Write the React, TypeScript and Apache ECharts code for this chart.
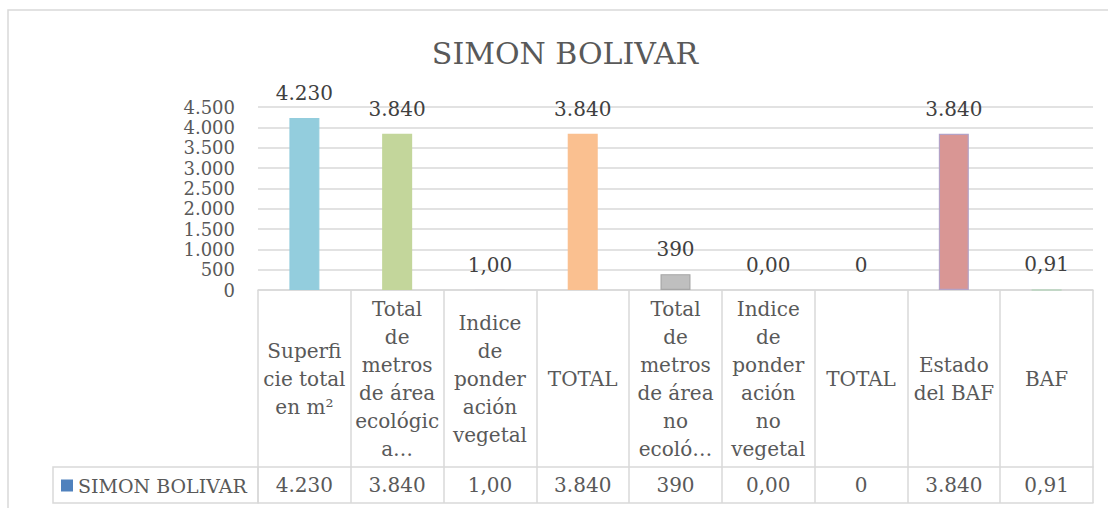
import React, { useEffect, useRef } from "react";
import * as echarts from "echarts";

const chartTitle = "SIMON BOLIVAR";
const seriesName = "SIMON BOLIVAR";
const categories = [
  "Superfi\ncie total\nen m²",
  "Total\nde\nmetros\nde área\necológic\na…",
  "Indice\nde\nponder\nación\nvegetal",
  "TOTAL",
  "Total\nde\nmetros\nde área\nno\necoló…",
  "Indice\nde\nponder\nación\nno\nvegetal",
  "TOTAL",
  "Estado\ndel BAF",
  "BAF",
];
const values = [4230, 3840, 1.0, 3840, 390, 0.0, 0, 3840, 0.91];
const valueLabels = ["4.230", "3.840", "1,00", "3.840", "390", "0,00", "0", "3.840", "0,91"];
const yTicks = [0, 500, 1000, 1500, 2000, 2500, 3000, 3500, 4000, 4500];
const barColors = ["#93CDDD", "#C3D69B", "#B3A2C7", "#FAC090", "#BFBFBF", "#95B3D7", "#D99694", "#D99694", "#C3D69B"];
const barBorders = ["#93CDDD", "#C3D69B", "", "#FAC090", "#A6A6A6", "", "", "#B3A2C7", "#A9D4B1"];

const FONT = "DejaVu Serif";
const GRID = "#D9D9D9";
const TXT = "#595959";

function fmtThousands(v: number): string {
  if (v >= 1000) {
    const k = Math.floor(v / 1000);
    const r = String(v % 1000).padStart(3, "0");
    return `${k}.${r}`;
  }
  return String(v);
}

export default function App() {
  const ref = useRef<HTMLDivElement>(null);
  useEffect(() => {
    if (!ref.current) return;
    const chart = echarts.init(ref.current, null, { renderer: "svg" });
    const option: any = {
      animation: false,
      backgroundColor: "#ffffff",
      textStyle: { fontFamily: FONT },
      graphic: [
        {
          type: "rect",
          shape: { x: 8, y: 10, width: 1200, height: 600 },
          style: { fill: "none", stroke: GRID, lineWidth: 1.5 },
          silent: true,
        },
        {
          type: "rect",
          shape: { x: 53, y: 467, width: 205, height: 36 },
          style: { fill: "none", stroke: GRID, lineWidth: 1.5 },
          silent: true,
        },
        {
          type: "text",
          x: 565,
          y: 53,
          style: {
            text: chartTitle,
            fill: TXT,
            font: `30px '${FONT}'`,
            textAlign: "center",
            textVerticalAlign: "middle",
          },
        },
      ],
      legend: {
        show: true,
        left: 61,
        top: 476,
        padding: 0,
        itemWidth: 12,
        itemHeight: 12,
        icon: "rect",
        textStyle: { fontFamily: FONT, fontSize: 19, color: TXT },
        data: [seriesName],
      },
      grid: { left: 258, right: 15, top: 107, bottom: 218, containLabel: false },
      xAxis: [
        {
          type: "category",
          data: categories,
          position: "bottom",
          axisLine: { show: true, lineStyle: { color: GRID, width: 1.5 } },
          axisTick: { show: true, length: 213, lineStyle: { color: GRID, width: 1.5 } },
          axisLabel: {
            interval: 0,
            margin: 89,
            verticalAlign: "middle",
            align: "center",
            fontFamily: FONT,
            fontSize: 20,
            lineHeight: 28,
            color: TXT,
          },
          splitLine: { show: false },
        },
        {
          type: "category",
          data: categories,
          position: "bottom",
          offset: 177,
          axisLine: { show: true, lineStyle: { color: GRID, width: 1.5 } },
          axisTick: { show: false },
          axisLabel: {
            interval: 0,
            margin: 18,
            verticalAlign: "middle",
            fontFamily: FONT,
            fontSize: 20,
            color: TXT,
            formatter: (_v: string, i: number) => valueLabels[i],
          },
        },
        {
          type: "category",
          data: categories,
          position: "bottom",
          offset: 213,
          axisLine: { show: true, lineStyle: { color: GRID, width: 1.5 } },
          axisTick: { show: false },
          axisLabel: { show: false },
        },
      ],
      yAxis: {
        type: "value",
        min: yTicks[0],
        max: yTicks[yTicks.length - 1],
        interval: 500,
        axisLine: { show: false },
        axisTick: { show: false },
        splitLine: { show: true, lineStyle: { color: GRID, width: 1.5 } },
        axisLabel: {
          margin: 23,
          fontFamily: FONT,
          fontSize: 18,
          lineHeight: 18,
          color: TXT,
          formatter: (v: number) => fmtThousands(v),
        },
      },
      series: [
        {
          name: seriesName,
          type: "bar",
          xAxisIndex: 0,
          barWidth: 30,
          itemStyle: { color: "#4F81BD" },
          label: {
            show: true,
            position: "top",
            distance: 15,
            fontFamily: FONT,
            fontSize: 20,
            color: "#404040",
            formatter: (p: any) => valueLabels[p.dataIndex],
          },
          data: values.map((v, i) => ({
            value: v,
            itemStyle: barBorders[i]
              ? { color: barColors[i], borderColor: barBorders[i], borderWidth: 1.2 }
              : { color: barColors[i], borderWidth: 0 },
          })),
        },
      ],
    };
    chart.setOption(option);
    return () => chart.dispose();
  }, []);
  return (
    <div
      ref={ref}
      style={{ position: "absolute", left: 0, top: 0, width: 1108, height: 508 }}
    />
  );
}
